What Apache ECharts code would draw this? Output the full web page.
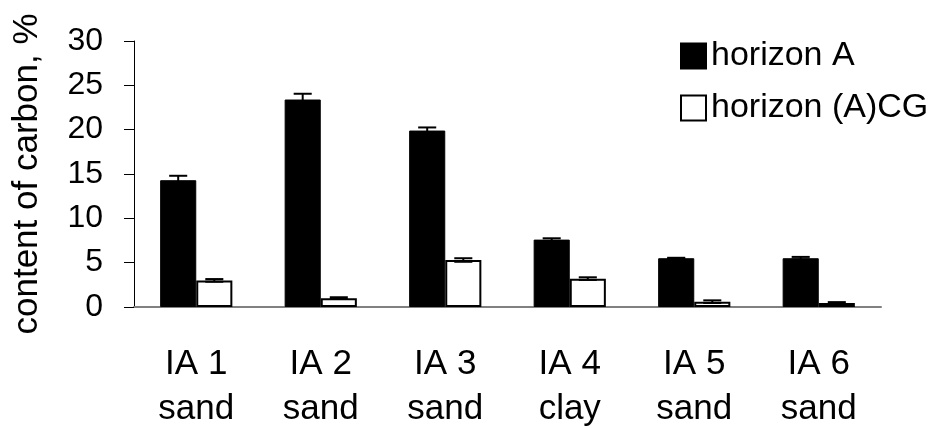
<!DOCTYPE html>
<html>
<head>
<meta charset="utf-8">
<script src="https://cdn.jsdelivr.net/npm/echarts@6/dist/echarts.min.js"></script>
<style>
  html, body { margin: 0; padding: 0; background: #fff; }
  #chart { width: 937px; height: 428px; }
</style>
</head>
<body>
<div id="chart"></div>
<script>
// sites and soil type under each site
const sites = ['IA 1', 'IA 2', 'IA 3', 'IA 4', 'IA 5', 'IA 6']
const soils = ['sand', 'sand', 'sand', 'clay', 'sand', 'sand']

// carbon content, %
const horizonA = [14.3, 23.4, 19.9, 7.6, 5.5, 5.5]
const horizonACG = [3.0, 1.0, 5.3, 3.2, 0.6, 0.45]

// error (+/-)
const errA = [0.5, 0.65, 0.35, 0.15, 0.05, 0.15]
const errACG = [0.15, 0.1, 0.2, 0.15, 0.15, 0.1]

const yTicks = [0, 5, 10, 15, 20, 25, 30]

const categories = sites.map((s, i) => s + '\n' + soils[i])
const FONT = '"Liberation Sans", Arial, sans-serif'
const BAR_FRAC = 0.29

// error bar for one series, shifted left (-1) or right (+1) of the category centre
const makeErrorRender = (side) => (params, api) => {
  const idx = api.value(0)
  const v = api.value(1)
  const e = api.value(2)
  const bw = api.size([1, 0])[0] * BAR_FRAC
  const x = api.coord([idx, v])[0] + side * bw / 2
  const yTop = api.coord([idx, v + e])[1]
  const yBot = api.coord([idx, v - e])[1]
  const cap = bw / 2
  const style = { stroke: '#000', lineWidth: 2 }
  return {
    type: 'group',
    children: [
      { type: 'line', shape: { x1: x, y1: yTop, x2: x, y2: yBot }, style },
      { type: 'line', shape: { x1: x - cap / 2, y1: yTop, x2: x + cap / 2, y2: yTop }, style },
      { type: 'line', shape: { x1: x - cap / 2, y1: yBot, x2: x + cap / 2, y2: yBot }, style }
    ]
  }
}

const chart = echarts.init(document.getElementById('chart'))

const option = {
  animation: false,
  backgroundColor: '#fff',
  textStyle: { fontFamily: FONT, color: '#000' },
  grid: { left: 134, right: 56, top: 41, bottom: 121, containLabel: false, outerBoundsMode: 'none' },
  legend: {
    orient: 'vertical',
    left: 675,
    top: 34,
    itemWidth: 25,
    itemHeight: 25,
    itemGap: 18,
    icon: 'rect',
    textStyle: { fontFamily: FONT, fontSize: 34, color: '#000', lineHeight: 25 },
    data: ['horizon A', 'horizon (A)CG']
  },
  xAxis: {
    type: 'category',
    data: categories,
    axisLine: { lineStyle: { color: '#808080', width: 2 } },
    axisTick: { length: 12, lineStyle: { color: '#000', width: 1 } },
    axisLabel: {
      interval: 0,
      margin: 35,
      fontFamily: FONT,
      fontSize: 35,
      lineHeight: 45,
      color: '#000'
    }
  },
  yAxis: {
    type: 'value',
    min: yTicks[0],
    max: yTicks[yTicks.length - 1],
    interval: yTicks[1] - yTicks[0],
    name: 'content of carbon, %',
    nameLocation: 'middle',
    nameGap: 89,
    nameTextStyle: { fontFamily: FONT, fontSize: 35, color: '#000' },
    splitLine: { show: false },
    axisLine: { show: true, lineStyle: { color: '#000', width: 1 } },
    axisTick: { show: true, length: 10, lineStyle: { color: '#000' } },
    axisLabel: { margin: 31, fontFamily: FONT, fontSize: 32, color: '#000' }
  },
  series: [
    {
      name: 'horizon A',
      type: 'bar',
      data: horizonA,
      barWidth: (BAR_FRAC * 100) + '%',
      barGap: '0%',
      itemStyle: { color: '#000', borderColor: '#000', borderWidth: 1 }
    },
    {
      name: 'horizon (A)CG',
      type: 'bar',
      data: horizonACG,
      barWidth: (BAR_FRAC * 100) + '%',
      barGap: '0%',
      itemStyle: { color: '#fff', borderColor: '#000', borderWidth: 2 }
    },
    {
      type: 'custom',
      name: 'errA',
      renderItem: makeErrorRender(-1),
      data: horizonA.map((v, i) => [i, v, errA[i]]),
      encode: { x: 0, y: 1 },
      z: 10,
      silent: true
    },
    {
      type: 'custom',
      name: 'errACG',
      renderItem: makeErrorRender(1),
      data: horizonACG.map((v, i) => [i, v, errACG[i]]),
      encode: { x: 0, y: 1 },
      z: 10,
      silent: true
    }
  ]
}

chart.setOption(option)
</script>
</body>
</html>
